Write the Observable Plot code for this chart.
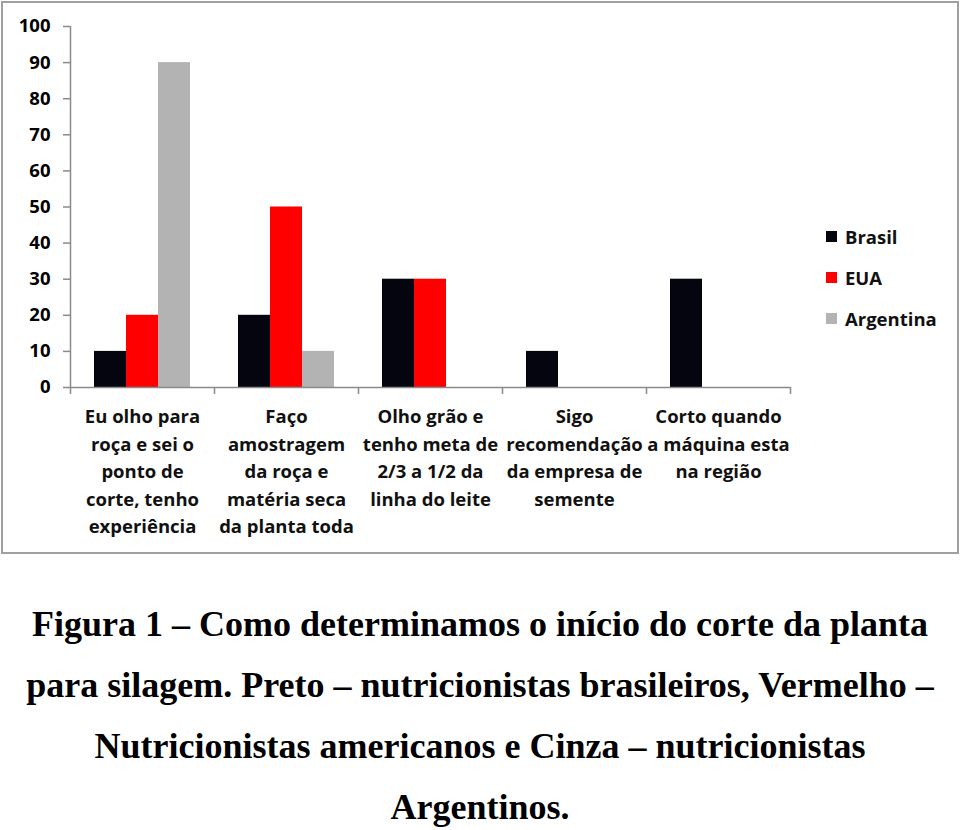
<!DOCTYPE html>
<html>
<head>
<meta charset="utf-8">
<script src="https://cdn.jsdelivr.net/npm/d3@7"></script>
<script src="https://cdn.jsdelivr.net/npm/@observablehq/plot@0.6"></script>
<style>
  html, body { margin: 0; padding: 0; background: #fff; }
  body { width: 960px; height: 830px; position: relative; overflow: hidden; }
  #box { position: absolute; left: 1px; top: 1px; width: 954px; height: 549px; border: 2px solid #a0a0a0; }
  #chart { position: absolute; left: 0; top: 0; }
  #legend { position: absolute; left: 826px; top: 216px; font-family: "Open Sans", sans-serif; font-weight: 700; font-size: 18.5px; color: #111; }
  #legend .row { height: 41px; display: flex; align-items: center; line-height: 28px; margin-top: 0; }
  #legend .sw { width: 11px; height: 11px; margin-right: 8px; }
  #caption { position: absolute; left: 0; top: 594px; width: 960px; text-align: center; font-family: "Liberation Serif", "Times New Roman", serif; font-weight: 700; font-size: 36px; line-height: 61px; color: #000; }
</style>
</head>
<body>
<div id="box"></div>
<div id="chart"></div>
<div id="legend"></div>
<div id="caption"></div>
<script>
// ---- data ----
const categories = [
  "Eu olho para\nroça e sei o\nponto de\ncorte, tenho\nexperiência",
  "Faço\namostragem\nda roça e\nmatéria seca\nda planta toda",
  "Olho grão e\ntenho meta de\n2/3 a 1/2 da\nlinha do leite",
  "Sigo\nrecomendação\nda empresa de\nsemente",
  "Corto quando\na máquina esta\nna região"
];
const series = ["Brasil", "EUA", "Argentina"];
const brasil = [10, 20, 30, 10, 30];
const eua = [20, 50, 30, 0, 0];
const argentina = [90, 10, 0, 0, 0];
const yTicks = [0, 10, 20, 30, 40, 50, 60, 70, 80, 90, 100];
const colors = ["#050510", "#ff0000", "#b3b3b3"];
const captionLines = [
  "Figura 1 – Como determinamos o início do corte da planta",
  "para silagem. Preto – nutricionistas brasileiros, Vermelho –",
  "Nutricionistas americanos e Cinza – nutricionistas",
  "Argentinos."
];

const values = [brasil, eua, argentina];
const data = [];
series.forEach((s, si) => categories.forEach((c, ci) => data.push({cat: c, series: s, value: values[si][ci]})));

// ---- layout ----
const W = 800, H = 552, mL = 70, mR = 10, mT = 26, mB = 165;
const band = (W - mL - mR) / categories.length;
const barW = 32;
const outer = (band - barW * series.length) / 2;
const gray = "#8a8a8a";
const font = "Open Sans, sans-serif";

const barMarks = series.map((s, i) =>
  Plot.barY(data.filter(d => d.series === s && d.value > 0), {
    x: "cat", y: "value", fill: "series",
    insetLeft: outer + barW * i,
    insetRight: outer + barW * (series.length - 1 - i)
  })
);

const plot = Plot.plot({
  width: W, height: H,
  marginLeft: mL, marginRight: mR, marginTop: mT, marginBottom: mB,
  style: {fontFamily: font, fontSize: "18.5px", fontWeight: 700, background: "transparent", overflow: "visible"},
  x: {domain: categories, padding: 0, axis: null},
  y: {domain: [0, 100], axis: null},
  color: {domain: series, range: colors},
  marks: [
    ...barMarks,
    Plot.ruleY([0], {stroke: gray, strokeWidth: 1.5}),
    Plot.ruleX(categories.slice(0, 1), {y1: 0, y2: 100, dx: -band / 2, stroke: gray, strokeWidth: 1.5}),
    Plot.ruleX(categories, {y1: 0, y2: 0, insetBottom: -7, dx: -band / 2, stroke: gray, strokeWidth: 1.5}),
    Plot.ruleX(categories.slice(-1), {y1: 0, y2: 0, insetBottom: -7, dx: band / 2, stroke: gray, strokeWidth: 1.5}),
    Plot.axisY({ticks: yTicks, tickSize: 7, tickPadding: 13, stroke: gray, strokeWidth: 1.5, fill: "#000",
      fontSize: 18.5, fontWeight: 700, fontFamily: font, label: null, anchor: "left"}),
    Plot.text(categories, {x: d => d, text: d => d, frameAnchor: "bottom", lineAnchor: "top", dy: 16,
      lineHeight: 1.49, fontSize: 18.5, fontWeight: 700, fontFamily: font, fill: "#111"})
  ]
});
document.getElementById("chart").appendChild(plot);

// legend
const legend = document.getElementById("legend");
series.forEach((s, i) => {
  const row = document.createElement("div");
  row.className = "row";
  const sw = document.createElement("div");
  sw.className = "sw";
  sw.style.background = colors[i];
  const t = document.createElement("span");
  t.textContent = s;
  row.appendChild(sw); row.appendChild(t);
  legend.appendChild(row);
});

// caption
const cap = document.getElementById("caption");
captionLines.forEach(l => {
  const d = document.createElement("div");
  d.textContent = l;
  cap.appendChild(d);
});
</script>
</body>
</html>
